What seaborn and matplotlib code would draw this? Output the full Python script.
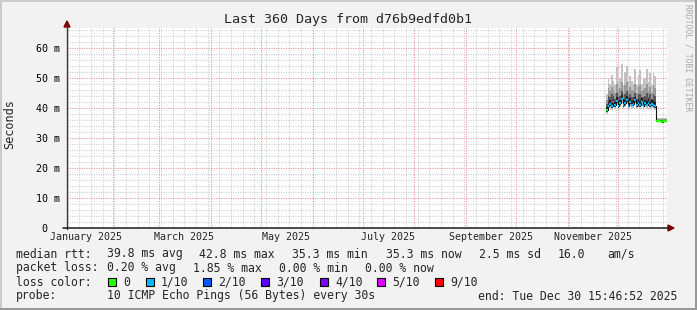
import numpy as np
import pandas as pd
import matplotlib
matplotlib.use("Agg")
import matplotlib.pyplot as plt
import matplotlib.dates as mdates
import seaborn as sns
from matplotlib.patches import Rectangle, Polygon
from matplotlib.lines import Line2D
from matplotlib.ticker import MultipleLocator, NullFormatter

# ---------------- data ----------------
TITLE = "Last 360 Days from d76b9edfd0b1"
X_START = "2025-01-04 15:46:52"
X_END = "2025-12-30 15:46:52"
DATA_START = "2025-11-24"

Y_TICKS = [0, 10, 20, 30, 40, 50, 60]
Y_TICK_LABELS = ["0  ", "10 m", "20 m", "30 m", "40 m", "50 m", "60 m"]
MONTH_LABEL_DATES = ["2025-01-16", "2025-03-16", "2025-05-16", "2025-07-16", "2025-09-16", "2025-11-16"]
MONTH_LABELS = ["January 2025", "March 2025", "May 2025", "July 2025", "September 2025", "November 2025"]

# daily median rtt (ms)
median = [39.3, 40.6, 41.2, 40.4, 41.8, 40.9, 42.3, 40.6, 41.4, 43.0,
          40.9, 41.6, 42.6, 40.7, 41.9, 41.0, 41.3, 42.4, 40.8, 41.6,
          40.9, 42.0, 40.7, 41.4, 41.0, 41.7, 40.8, 41.3, 40.9, 40.6,
          35.6, 35.5, 35.5, 35.4, 35.5, 35.5, 35.5]
# smoke bands (ms)
ping_min = [38.0, 39.3, 39.9, 39.1, 40.5, 39.6, 41.0, 39.3, 40.1, 41.7,
            39.6, 40.3, 41.3, 39.4, 40.6, 39.7, 40.0, 41.1, 39.5, 40.3,
            39.6, 40.7, 39.4, 40.1, 39.7, 40.4, 39.5, 40.0, 39.6, 39.3,
            35.3, 35.2, 35.2, 35.1, 35.2, 35.2, 35.2]
ping_lo = [38.7, 40.0, 40.6, 39.8, 41.2, 40.3, 41.7, 40.0, 40.8, 42.4,
           40.3, 41.0, 42.0, 40.1, 41.3, 40.4, 40.7, 41.8, 40.2, 41.0,
           40.3, 41.4, 40.1, 40.8, 40.4, 41.1, 40.2, 40.7, 40.3, 40.0,
           35.4, 35.4, 35.4, 35.3, 35.4, 35.4, 35.4]
ping_core = [40.3, 41.8, 42.4, 41.5, 43.0, 42.0, 43.5, 41.7, 42.6, 44.2,
             42.1, 42.7, 43.8, 41.9, 43.1, 42.2, 42.5, 43.6, 42.0, 42.8,
             42.1, 43.2, 41.9, 42.6, 42.2, 42.9, 42.0, 42.5, 42.1, 41.8,
             35.7, 35.7, 35.7, 35.6, 35.7, 35.7, 35.7]
ping_hi3 = [41.2, 44.0, 43.5, 44.5, 44.0, 43.0, 45.0, 43.5, 44.0, 45.5,
            43.0, 44.5, 45.5, 43.5, 44.5, 43.5, 43.5, 45.0, 43.0, 44.5,
            44.5, 43.5, 43.5, 44.0, 45.0, 43.5, 44.5, 43.0, 44.5, 44.0,
            35.9, 35.9, 35.9, 35.8, 35.9, 35.9, 35.9]
ping_hi2 = [42.5, 46.5, 45.5, 47.0, 46.0, 45.0, 48.0, 46.0, 46.5, 48.5,
            45.0, 47.5, 48.5, 46.0, 47.0, 46.0, 45.5, 48.0, 45.0, 47.0,
            47.5, 45.5, 46.0, 46.5, 48.0, 45.5, 47.0, 45.0, 47.5, 46.5,
            36.2, 36.2, 36.2, 36.1, 36.2, 36.2, 36.2]
ping_max = [44.5, 49.5, 48.0, 51.0, 49.0, 47.5, 53.5, 48.5, 50.0, 54.5,
            47.5, 52.0, 54.0, 49.0, 50.5, 49.0, 48.0, 53.0, 47.5, 51.0,
            52.5, 48.0, 49.5, 50.0, 53.0, 48.5, 51.5, 47.5, 52.0, 50.5,
            36.6, 36.5, 36.6, 36.5, 36.6, 36.5, 36.6]
# loss level index per day (into LOSS_COLORS)
loss_idx = [0, 1, 1, 1, 1, 1, 1, 1, 1, 1,
            1, 1, 1, 1, 1, 1, 1, 1, 1, 1,
            1, 1, 1, 1, 1, 1, 1, 1, 1, 1,
            0, 0, 0, 0, 0, 0, 0]

LOSS_LABELS = ["0", "1/10", "2/10", "3/10", "4/10", "5/10", "9/10"]
LOSS_COLORS = ["#26ff00", "#00b8ff", "#0059ff", "#5e00ff", "#7e00ff", "#dd00ff", "#ff0000"]

ROW1 = [("median rtt:", 16), ("39.8 ms avg", 107), ("42.8 ms max", 199), ("35.3 ms min", 292.5),
        ("35.3 ms now", 386), ("2.5 ms sd", 479), ("16.0", 558), ("am/s", 607)]
ROW2 = [("packet loss:", 16), ("0.20 % avg", 107), ("1.85 % max", 193), ("0.00 % min", 279),
        ("0.00 % now", 365)]
ROW4 = [("probe:", 16), ("10 ICMP Echo Pings (56 Bytes) every 30s", 107),
        ("end: Tue Dec 30 15:46:52 2025", 478)]
LOSS_LABEL_X = [123, 161, 218, 276, 335, 392, 450]

# ---------------- style ----------------
sns.set_style("white")
MONO = ["DejaVu Sans Mono"]
plt.rcParams["font.family"] = MONO

W, H = 697, 310
fig = plt.figure(figsize=(W / 100, H / 100), dpi=100, facecolor="#f2f2f2")


def fx(x):
    return x / W


def fy(y):
    return 1 - y / H


ax = fig.add_axes([fx(67), fy(228), 600 / W, 200 / H])
ax.set_facecolor("white")
x_start, x_end = pd.Timestamp(X_START), pd.Timestamp(X_END)
ax.set_xlim(x_start, x_end)
ax.set_ylim(0, 66.5)

# grid
ax.xaxis.set_major_locator(mdates.MonthLocator())
ax.xaxis.set_minor_locator(mdates.WeekdayLocator(byweekday=mdates.SU))
ax.xaxis.set_major_formatter(NullFormatter())
ax.xaxis.set_minor_formatter(NullFormatter())
ax.yaxis.set_major_locator(MultipleLocator(10))
ax.yaxis.set_minor_locator(MultipleLocator(2))
ax.set_yticks(Y_TICKS)
ax.set_yticklabels(Y_TICK_LABELS)
ax.set_axisbelow(True)
dot = (0, (1.0, 1.4))
ax.grid(which="minor", color="#c8c8c8", linestyle=dot, linewidth=0.72)
ax.grid(which="major", color="#f08a8a", linestyle=dot, linewidth=0.72)
ax.tick_params(axis="both", which="major", length=1.5, width=0.7, color="#f08a8a",
               labelsize=7.2, pad=3.8, labelcolor="black")
ax.tick_params(axis="both", which="minor", length=1.5, width=0.7, color="#c8c8c8")
for s in ax.spines.values():
    s.set_visible(False)

# smoke
dates = pd.date_range(DATA_START, periods=len(median), freq="D")
xe = dates.append(pd.DatetimeIndex([x_end]))


def ext(a):
    a = np.asarray(a, dtype=float)
    return np.append(a, a[-1])


ax.fill_between(xe, ext(ping_min), ext(ping_max), step="post", color="#c2c2c2", lw=0)
ax.fill_between(xe, ext(ping_lo), ext(ping_hi2), step="post", color="#989898", lw=0)
ax.fill_between(xe, ext(ping_lo), ext(ping_hi3), step="post", color="#585858", lw=0)
ax.fill_between(xe, ext(ping_lo), ext(ping_core), step="post", color="#1e1e1e", lw=0)

sns.lineplot(x=xe, y=ext(median), drawstyle="steps-post", color="#111111",
             linewidth=0.8, ax=ax, estimator=None)
for i in range(len(median)):
    ax.plot([xe[i], xe[i + 1]], [median[i], median[i]], color=LOSS_COLORS[loss_idx[i]],
            lw=1.7, solid_capstyle="butt")
ax.set_xlabel("")
ax.set_ylabel("")

# month labels
for d, lab in zip(MONTH_LABEL_DATES, MONTH_LABELS):
    ax.text(pd.Timestamp(d), -0.0475, lab, transform=ax.get_xaxis_transform(),
            ha="center", va="center", fontsize=7.2, family=MONO)

# axes with arrows
fig.add_artist(Line2D([fx(67), fx(67)], [fy(228.5), fy(24)], color="#3a3a3a", lw=1.0))
fig.add_artist(Line2D([fx(63), fx(669)], [fy(228), fy(228)], color="#1a1a1a", lw=1.1))
fig.add_artist(Polygon([[fx(64), fy(27)], [fx(70), fy(27)], [fx(67), fy(21)]],
                       closed=True, color="#7f0000", transform=fig.transFigure))
fig.add_artist(Polygon([[fx(668), fy(225)], [fx(668), fy(231)], [fx(674), fy(228)]],
                       closed=True, color="#7f0000", transform=fig.transFigure))

# title, axis label, watermark
fig.text(0.5, fy(19), TITLE, ha="center", va="center", fontsize=9.6, family=MONO)
fig.text(fx(10), fy(124), "Seconds", rotation=90, ha="center", va="center",
         fontsize=8.6, family=MONO)
fig.text(fx(688), fy(4), "RRDTOOL / TOBI OETIKER", rotation=270, ha="center", va="top",
         fontsize=5.8, color="#a8a8a8", family=MONO)

# legend rows
for row, yy in ((ROW1, 254), (ROW2, 268), (ROW4, 296)):
    for txt, xx in row:
        fig.text(fx(xx), fy(yy), txt, ha="left", va="center", fontsize=8.3, family=MONO)
fig.text(fx(16), fy(282), "loss color:", ha="left", va="center", fontsize=8.3, family=MONO)
for lab, col, xx in zip(LOSS_LABELS, LOSS_COLORS, LOSS_LABEL_X):
    fig.add_artist(Rectangle((fx(xx - 15), fy(286)), 8 / W, 8 / H, facecolor=col,
                             edgecolor="black", lw=0.8, transform=fig.transFigure))
    fig.text(fx(xx), fy(282), lab, ha="left", va="center", fontsize=8.3, family=MONO)

# 3D frame
fig.add_artist(Rectangle((0, fy(2)), 1, 2 / H, facecolor="#cbcbcb", lw=0, transform=fig.transFigure))
fig.add_artist(Rectangle((0, 0), 2 / W, 1, facecolor="#cbcbcb", lw=0, transform=fig.transFigure))
fig.add_artist(Rectangle((fx(695), 0), 2 / W, 1, facecolor="#999999", lw=0, transform=fig.transFigure))
fig.add_artist(Rectangle((0, 0), 1, 2.5 / H, facecolor="#999999", lw=0, transform=fig.transFigure))

fig.savefig("out.png", dpi=100, facecolor=fig.get_facecolor())
